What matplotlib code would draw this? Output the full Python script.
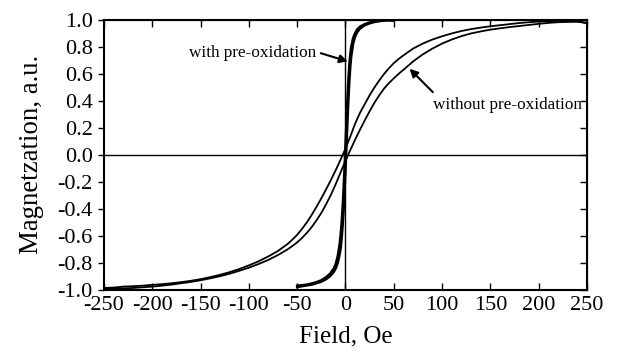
# hysteresis loops, with / without pre-oxidation
import numpy as np
import matplotlib
matplotlib.use("Agg")
import matplotlib.pyplot as plt

plt.rcParams['font.family'] = ['Liberation Serif', 'DejaVu Serif']
plt.rcParams['axes.unicode_minus'] = False

# without pre-oxidation: field (Oe) and both branches
h_wo = [-250, -240, -230, -220, -210, -200, -190, -180, -170, -160, -150,
        -140, -130, -120, -110, -100, -90, -80, -70, -60, -55, -50, -45,
        -40, -35, -30, -25, -20, -15, -10, -5, 0, 5, 10, 15, 20, 25, 30,
        35, 40, 45, 50, 55, 60, 70, 80, 90, 100, 110, 120, 130, 140, 150,
        160, 170, 180, 190, 200, 210, 220, 230, 240, 250]
m_wo_down = [-0.985, -0.982, -0.975, -0.972, -0.968, -0.962, -0.957, -0.950,
             -0.942, -0.932, -0.920, -0.905, -0.888, -0.868, -0.845, -0.818,
             -0.788, -0.752, -0.712, -0.660, -0.628, -0.592, -0.548, -0.500,
             -0.445, -0.385, -0.322, -0.255, -0.185, -0.112, -0.035, 0.045,
             0.135, 0.230, 0.310, 0.375, 0.440, 0.498, 0.550, 0.598, 0.640,
             0.677, 0.708, 0.735, 0.785, 0.822, 0.852, 0.876, 0.897, 0.915,
             0.929, 0.940, 0.950, 0.958, 0.966, 0.974, 0.980, 0.985, 0.988,
             0.990, 0.990, 0.988, 0.972]
m_wo_up = [-0.990, -0.990, -0.988, -0.985, -0.980, -0.975, -0.968, -0.960,
           -0.950, -0.940, -0.928, -0.914, -0.898, -0.880, -0.858, -0.835,
           -0.808, -0.778, -0.742, -0.700, -0.675, -0.648, -0.615, -0.578,
           -0.535, -0.485, -0.430, -0.365, -0.295, -0.215, -0.130, -0.045,
           0.035, 0.112, 0.185, 0.255, 0.322, 0.385, 0.440, 0.490, 0.530,
           0.565, 0.598, 0.628, 0.690, 0.742, 0.785, 0.822, 0.852, 0.877,
           0.897, 0.912, 0.925, 0.935, 0.944, 0.952, 0.960, 0.968, 0.975,
           0.980, 0.982, 0.983, 0.975]

# with pre-oxidation: field (Oe) and both branches
h_w = [-50, -45, -40, -35, -30, -25, -20, -16, -12, -10, -8, -6, -5, -4, -3,
       -2, -1, 0, 1, 2, 3, 4, 5, 6, 8, 10, 12, 15, 20, 25, 30, 35, 40, 45, 50]
m_w_down = [-0.968, -0.965, -0.960, -0.952, -0.942, -0.928, -0.905, -0.880,
            -0.840, -0.805, -0.750, -0.660, -0.590, -0.505, -0.395, -0.260,
            -0.100, 0.070, 0.245, 0.410, 0.550, 0.665, 0.745, 0.800, 0.865,
            0.900, 0.925, 0.947, 0.966, 0.978, 0.986, 0.991, 0.994, 0.996,
            0.994]
m_w_up = [-0.978, -0.972, -0.966, -0.960, -0.950, -0.938, -0.920, -0.898,
          -0.865, -0.838, -0.800, -0.735, -0.690, -0.620, -0.530, -0.420,
          -0.280, -0.120, 0.060, 0.240, 0.405, 0.545, 0.655, 0.730, 0.825,
          0.875, 0.905, 0.933, 0.958, 0.972, 0.982, 0.988, 0.992, 0.994,
          0.992]

xticks = [-250, -200, -150, -100, -50, 0, 50, 100, 150, 200, 250]
yticks = [-1.0, -0.8, -0.6, -0.4, -0.2, 0.0, 0.2, 0.4, 0.6, 0.8, 1.0]

fig = plt.figure(figsize=(6.23, 3.54), dpi=100)
ax = fig.add_axes([0.1669, 0.1808, 0.7753, 0.7641])

ax.axhline(0, color='k', lw=1.0)
ax.axvline(0, color='k', lw=1.0)

ax.plot(h_wo, m_wo_down, 'k-', lw=1.3)
ax.plot(h_wo, m_wo_up, 'k-', lw=1.3)
ax.plot(h_w, m_w_down, 'k-', lw=1.8)
ax.plot(h_w, m_w_up, 'k-', lw=1.8)

ax.set_xlim(-250, 250)
ax.set_ylim(-1.0, 1.0)
ax.set_xticks(xticks)
ax.set_yticks(yticks)
ax.set_yticklabels(['%.1f' % v for v in yticks])
ax.tick_params(axis='x', direction='in', length=5, width=1, labelsize=16, pad=4)
ax.tick_params(axis='y', direction='out', length=4, width=1, labelsize=16, pad=4)
for s in ax.spines.values():
    s.set_linewidth(1.5)

# inward ticks on top and right
top = ax.secondary_xaxis('top')
top.set_xticks(xticks)
top.tick_params(direction='in', length=5, width=1, labeltop=False)
right = ax.secondary_yaxis('right')
right.set_yticks(yticks)
right.tick_params(direction='in', length=5, width=1, labelright=False)

ax.set_xlabel('Field, Oe', fontsize=18, labelpad=8)
ax.set_ylabel('Magnetzation, a.u.', fontsize=19.3, labelpad=10)

arrow = dict(arrowstyle='-|>', color='k', lw=1.5, mutation_scale=12,
             shrinkA=0, shrinkB=0)
ax.text(-30, 0.756, 'with pre-oxidation', ha='right', va='center', fontsize=12.3)
ax.annotate('', xy=(2.4, 0.69), xytext=(-25.6, 0.751), arrowprops=arrow)
ax.text(245, 0.37, 'without pre-oxidation', ha='right', va='center', fontsize=12.3)
ax.annotate('', xy=(66.3, 0.636), xytext=(90.4, 0.463), arrowprops=arrow)

fig.savefig('out.png', dpi=100)
